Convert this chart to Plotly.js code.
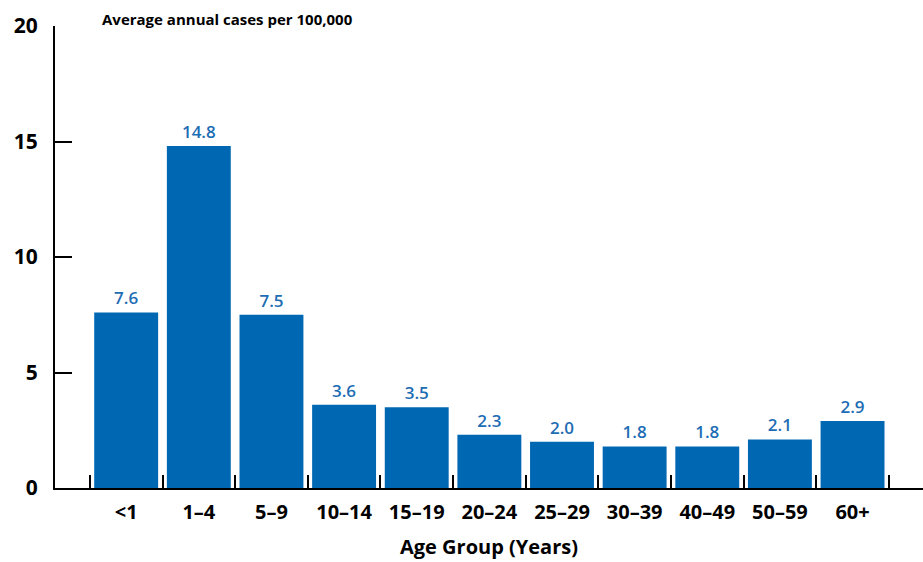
<!DOCTYPE html>
<html>
<head>
<meta charset="utf-8">
<script src="https://cdn.plot.ly/plotly-3.0.1.min.js"></script>
<style>html,body{margin:0;padding:0;background:#fff;}#chart{width:923px;height:562px;}</style>
</head>
<body>
<div id="chart"></div>
<script>
const ageGroups = ["<1", "1–4", "5–9", "10–14", "15–19", "20–24", "25–29", "30–39", "40–49", "50–59", "60+"];
const cases = [7.6, 14.8, 7.5, 3.6, 3.5, 2.3, 2.0, 1.8, 1.8, 2.1, 2.9];
const yTicks = [0, 5, 10, 15, 20];

const FONT = "'Open Sans', 'Noto Sans', sans-serif";
const BLUE = "#0068b3";

Plotly.newPlot("chart", [{
  type: "bar",
  x: ageGroups,
  y: cases,
  text: cases.map(v => v.toFixed(1)),
  textposition: "outside",
  textfont: {family: FONT, size: 17, color: "#1d6db4", weight: 600},
  marker: {color: BLUE, line: {width: 0}},
  cliponaxis: false,
  hoverinfo: "none"
}], {
  width: 923, height: 562,
  margin: {l: 55, r: 0, t: 26, b: 74, pad: 0},
  paper_bgcolor: "#fff", plot_bgcolor: "#fff",
  showlegend: false,
  bargap: 0.12,
  xaxis: {
    type: "category",
    range: [-0.98, 10.97],
    tickson: "boundaries",
    ticks: "inside", ticklen: 13, tickwidth: 2, tickcolor: "#000",
    showline: true, linecolor: "#000", linewidth: 2,
    showgrid: false, zeroline: false,
    tickfont: {family: FONT, size: 20, color: "#000", weight: 700},
    ticklabelstandoff: 5,
    title: {text: "Age Group (Years)", font: {family: FONT, size: 20, color: "#000", weight: 700}, standoff: 16}
  },
  yaxis: {
    range: [0, 20],
    tickvals: yTicks,
    ticktext: yTicks.map(String),
    ticks: "inside", ticklen: 17, tickwidth: 2, tickcolor: "#000",
    showline: true, linecolor: "#000", linewidth: 2,
    showgrid: false, zeroline: false,
    tickfont: {family: FONT, size: 21, color: "#000", weight: 700},
    ticklabelstandoff: 11
  },
  annotations: [{
    text: "Average annual cases per 100,000",
    xref: "paper", yref: "paper", x: 0.052, y: 1, xanchor: "left", yanchor: "middle",
    yshift: 7,
    showarrow: false,
    font: {family: FONT, size: 15, color: "#000", weight: 700}
  }]
}, {displayModeBar: false, staticPlot: true});
</script>
</body>
</html>
